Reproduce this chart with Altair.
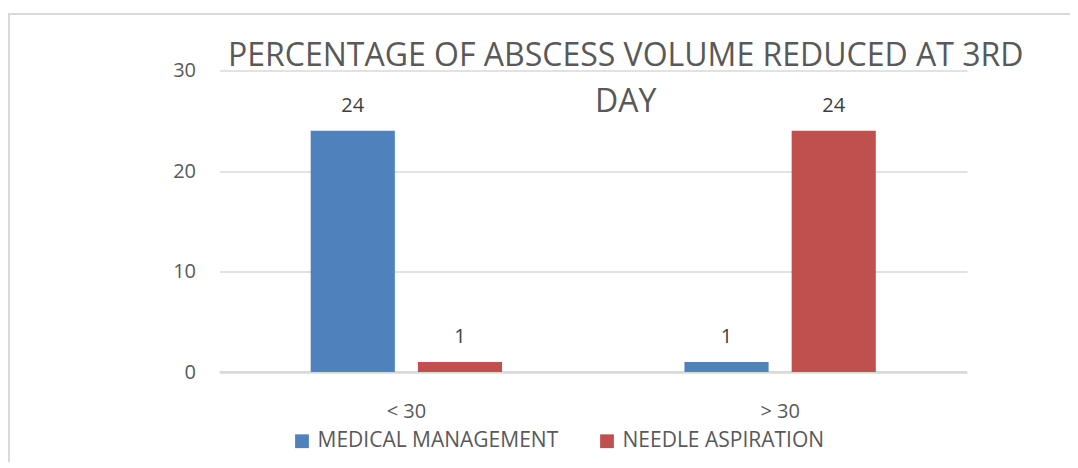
import altair as alt
import pandas as pd

categories = ["< 30", "> 30"]
series = ["MEDICAL MANAGEMENT", "NEEDLE ASPIRATION"]
medical = [24, 1]
needle = [1, 24]
colors = ["#4F81BD", "#C0504D"]

rows = []
for i, c in enumerate(categories):
    rows.append({"cat": c, "series": series[0], "value": medical[i]})
    rows.append({"cat": c, "series": series[1], "value": needle[i]})
df = pd.DataFrame(rows)

FONT = "Open Sans"

base = alt.Chart(df).encode(
    x=alt.X("cat:N", sort=categories, title=None,
            scale=alt.Scale(paddingInner=0.488, paddingOuter=0.244),
            axis=alt.Axis(labelAngle=0, labelFontSize=20, labelColor="#595959",
                          labelFont=FONT, labelPadding=29, ticks=False, domain=False)),
    xOffset=alt.XOffset("series:N", sort=series,
                        scale=alt.Scale(paddingInner=0.215, paddingOuter=0)),
)

bars = base.mark_bar().encode(
    y=alt.Y("value:Q", title=None,
            scale=alt.Scale(domain=[0, 30], nice=False),
            axis=alt.Axis(values=[0, 10, 20, 30], labelFontSize=20, labelColor="#595959",
                          labelFont=FONT, labelPadding=24, ticks=False, domain=False,
                          gridColor="#D9D9D9", gridWidth=1.5)),
    color=alt.Color("series:N", sort=series,
                    scale=alt.Scale(domain=series, range=colors),
                    legend=alt.Legend(title=None, orient="none", direction="horizontal",
                                      legendX=72, legendY=360,
                                      symbolType="square", symbolSize=190,
                                      symbolStrokeWidth=0, labelFontSize=21,
                                      labelFont=FONT, labelColor="#595959",
                                      labelLimit=0,
                                      labelOffset=5, columnPadding=38)),
)

labels = base.mark_text(baseline="alphabetic", dy=-18.5, fontSize=20, font=FONT,
                        color="#404040").encode(
    y=alt.Y("value:Q"),
    text=alt.Text("value:Q"),
)

baseline = alt.Chart(alt.Data(values=[{"v": 0}])).mark_rule(
    color="#D9D9D9", strokeWidth=2).encode(y=alt.Y("v:Q"))

frame = alt.Chart(alt.Data(values=[{}])).mark_rect(
    fill=None, stroke="#D9D9D9", strokeWidth=2, clip=False).encode(
    x=alt.value(-210.5), x2=alt.value(900), y=alt.value(-56.5), y2=alt.value(430))

chart = alt.layer(frame, baseline, bars, labels).properties(
    width=747.5, height=301.5,
    background="white",
    title=alt.TitleParams(
        text=["PERCENTAGE OF ABSCESS VOLUME REDUCED AT 3RD", "DAY"],
        fontSize=32, font=FONT, fontWeight="normal", color="#595959",
        anchor="middle", frame="group", lineHeight=46, dx=32.5, dy=89,
        baseline="alphabetic", offset=-42),
    padding={"left": 211.5, "top": 62.5, "right": 103, "bottom": 90},
    autosize=alt.AutoSizeParams(type="none"),
).configure_view(stroke="transparent", strokeWidth=0)

chart.save("out.html", embed_options={"renderer": "svg", "actions": False})
